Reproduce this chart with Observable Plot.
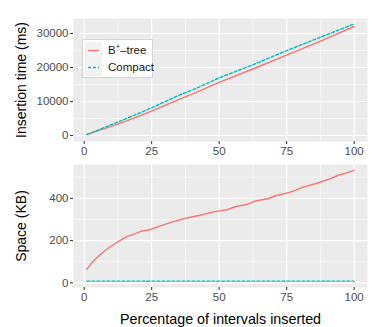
<!DOCTYPE html>
<html><head><meta charset="utf-8">
<script src="https://cdn.jsdelivr.net/npm/d3@7"></script>
<script src="https://cdn.jsdelivr.net/npm/@observablehq/plot@0.6"></script>
<style>
body{margin:0;background:#fff;font-family:"Liberation Sans",Arial,sans-serif}
#wrap{position:relative;width:374px;height:327px}
#wrap svg{display:block}
#legend{position:absolute;left:82px;top:39px;width:69px;height:37px;background:#fff;border:1px solid #D6D6D6;font-size:11.5px;color:#1a1a1a}
.row{position:absolute;left:0;height:17px;width:69px}
.key{position:absolute;left:2px;top:0;width:17px;height:17px;background:#F2F2F2}
.lab{position:absolute;left:25px;top:1px;line-height:15px;white-space:nowrap}
.lab sup{font-size:7.5px;vertical-align:5px;line-height:0}
</style></head>
<body><div id="wrap"></div>
<script>
// ---- data ----
const seriesNames = ["B+-tree", "Compact"];
const colors = ["#F8766D", "#00BFC4"];
const timeBtreeX = [1, 10, 16, 25, 35, 40, 50, 63, 75, 88, 100];
const timeBtree  = [300, 2700, 4400, 7150, 10550, 12150, 15600, 19700, 23650, 27900, 32050];
const timeCompactX = [1, 16, 25, 35, 40, 50, 63, 75, 88, 100];
const timeCompact  = [300, 5100, 8150, 11800, 13350, 16950, 20950, 24950, 29050, 32800];
const spaceBtreeX = [1, 3, 5, 7, 9, 12, 16, 19, 21, 24, 28, 33, 38, 43, 48, 53, 56, 61, 63, 68, 71, 76, 78, 81, 86, 91, 94, 97, 100];
const spaceBtree  = [64, 98, 122, 145, 165, 190, 220, 233, 244, 250, 268, 290, 307, 320, 336, 346, 360, 374, 386, 398, 412, 428, 436, 453, 470, 492, 508, 519, 532];
const spaceCompactX = [1, 100];
const spaceCompact  = [8, 8];
const xMajor = [0, 25, 50, 75, 100];
const xMinor = [12.5, 37.5, 62.5, 87.5];
const timeMajor = [0, 10000, 20000, 30000];
const timeMinor = [5000, 15000, 25000];
const spaceMajor = [0, 200, 400];
const spaceMinor = [100, 300, 500];

const rows = (xs, ys, s) => xs.map((x, i) => ({x, y: ys[i], s}));
const timeData = [...rows(timeBtreeX, timeBtree, seriesNames[0]), ...rows(timeCompactX, timeCompact, seriesNames[1])];
const spaceData = [...rows(spaceBtreeX, spaceBtree, seriesNames[0]), ...rows(spaceCompactX, spaceCompact, seriesNames[1])];

function panel({data, height, marginTop, marginBottom, yDomain, yMajor, yMinor, ylabel, xlabel}) {
  const marks = [
    Plot.frame({fill: "#EBEBEB", stroke: null}),
    Plot.ruleX(xMinor, {stroke: "white", strokeWidth: 0.55}),
    Plot.ruleY(yMinor, {stroke: "white", strokeWidth: 0.55}),
    Plot.ruleX(xMajor, {stroke: "white", strokeWidth: 1.1}),
    Plot.ruleY(yMajor, {stroke: "white", strokeWidth: 1.1}),
    Plot.line(data.filter(d => d.s === seriesNames[0]), {x: "x", y: "y", stroke: colors[0], strokeWidth: 1.4}),
    Plot.line(data.filter(d => d.s === seriesNames[1]), {x: "x", y: "y", stroke: colors[1], strokeWidth: 1.4, strokeDasharray: "3,2"}),
    Plot.axisX({ticks: xMajor, tickSize: 3, tickPadding: 2, stroke: "#333", fill: "#4D4D4D", label: null}),
    Plot.axisY({ticks: yMajor, tickSize: 3, tickPadding: 2, tickFormat: d3.format("d"), stroke: "#333", fill: "#4D4D4D", label: null}),
    Plot.axisY({ticks: [], label: ylabel, labelAnchor: "center", labelArrow: "none", labelOffset: 57, fontSize: 14, fill: "black"})
  ];
  if (xlabel) marks.push(Plot.axisX({ticks: [], label: xlabel, labelAnchor: "center", labelArrow: "none", labelOffset: 36, fontSize: 14.3, fill: "black"}));
  return Plot.plot({
    width: 374, height, marginLeft: 73, marginRight: 7, marginTop, marginBottom,
    style: {fontFamily: "'Liberation Sans', Arial, sans-serif", fontSize: "11.5px", background: "white", overflow: "visible"},
    x: {domain: [-3.95, 104.95]},
    y: {domain: yDomain},
    marks
  });
}

const wrap = document.getElementById("wrap");
wrap.append(panel({data: timeData, height: 158, marginTop: 18, marginBottom: 17, yDomain: [-1750, 34400], yMajor: timeMajor, yMinor: timeMinor, ylabel: "Insertion time (ms)"}));
wrap.append(panel({data: spaceData, height: 169, marginTop: 6, marginBottom: 40, yDomain: [-22, 560], yMajor: spaceMajor, yMinor: spaceMinor, ylabel: "Space (KB)", xlabel: "Percentage of intervals inserted"}));

const legend = document.createElement("div");
legend.id = "legend";
seriesNames.forEach((name, i) => {
  const row = document.createElement("div");
  row.className = "row";
  row.style.top = (2 + i * 17) + "px";
  row.innerHTML = `<div class="key"></div>
    <svg width="17" height="17" style="position:absolute;left:2px;top:0"><line x1="3" x2="14" y1="8.5" y2="8.5" stroke="${colors[i]}" stroke-width="1.4" ${i === 1 ? 'stroke-dasharray="3,2"' : ''}/></svg>
    <div class="lab">${i === 0 ? 'B<sup>+</sup>–tree' : name}</div>`;
  legend.append(row);
});
wrap.append(legend);
</script></body></html>
